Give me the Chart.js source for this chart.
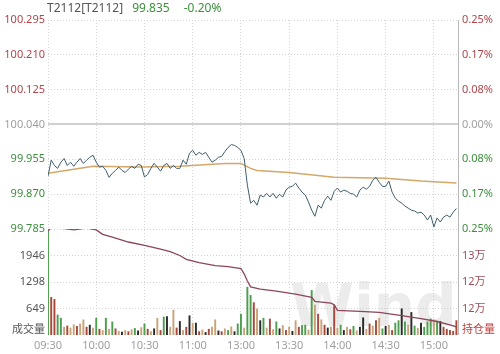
<!DOCTYPE html>
<html>
<head>
<meta charset="utf-8">
<script src="https://cdn.jsdelivr.net/npm/chart.js@4/dist/chart.umd.min.js"></script>
<style>
html, body { margin: 0; padding: 0; background: #fff; }
#wrap { position: relative; width: 500px; height: 354px; }
#chart { position: absolute; left: 0; top: 0; }
#title { position: absolute; left: 47px; top: 0; font: 12px 'Noto Sans', 'Noto Sans CJK SC', sans-serif; line-height: 16px; white-space: nowrap; }
</style>
</head>
<body>
<div id="wrap">
  <canvas id="chart" width="500" height="354"></canvas>
  <div id="title"><span style="color:#555">T2112[T2112]</span><span style="color:#3d8f3d;margin-left:9px">99.835</span><span style="color:#3d8f3d;margin-left:14px">-0.20%</span></div>
</div>
<script>
// one bucket = 2 minutes, 09:30-11:30 then 13:00-15:15
const xTickLabels = ['09:30', '10:00', '10:30', '11:00', '13:00', '13:30', '14:00', '14:30', '15:00'];
const xTickBuckets = [0, 15, 30, 45, 60, 75, 90, 105, 120];
const lastBucket = 127.5;

const prevSettle = 100.040;
const priceTicks = [99.785, 99.870, 99.955, 100.040, 100.125, 100.210, 100.295];

const priceValues = [
  99.914, 99.953, 99.940, 99.933, 99.948, 99.957, 99.940, 99.948, 99.938, 99.948,
  99.957, 99.945, 99.953, 99.960, 99.965, 99.948, 99.936, 99.938, 99.928, 99.911,
  99.921, 99.928, 99.936, 99.928, 99.923, 99.931, 99.938, 99.933, 99.943, 99.940,
  99.912, 99.918, 99.933, 99.945, 99.936, 99.926, 99.940, 99.945, 99.933, 99.940,
  99.933, 99.933, 99.953, 99.943, 99.970, 99.977, 99.965, 99.972, 99.967, 99.972,
  99.960, 99.948, 99.953, 99.960, 99.962, 99.974, 99.984, 99.991, 99.989, 99.984,
  99.977, 99.957, 99.892, 99.848, 99.855, 99.843, 99.868, 99.863, 99.872, 99.863,
  99.872, 99.860, 99.870, 99.863, 99.880, 99.887, 99.889, 99.897, 99.885, 99.875,
  99.868, 99.851, 99.831, 99.816, 99.843, 99.836, 99.855, 99.865, 99.855, 99.877,
  99.885, 99.875, 99.880, 99.877, 99.872, 99.870, 99.863, 99.880, 99.887, 99.882,
  99.889, 99.904, 99.911, 99.899, 99.889, 99.889, 99.902, 99.875, 99.860, 99.853,
  99.848, 99.841, 99.836, 99.831, 99.829, 99.824, 99.826, 99.819, 99.807, 99.819,
  99.790, 99.812, 99.802, 99.814, 99.819, 99.814, 99.826, 99.835
];

const avgBuckets = [0, 14, 29, 41, 55, 60, 63, 65, 75, 89, 105, 116, 127];
const avgValues = [99.921, 99.938, 99.936, 99.938, 99.945, 99.945, 99.933, 99.928, 99.923, 99.911, 99.909, 99.902, 99.897];

const volTicks = [125, 648.75, 1297.5, 1946.25, 2595];
const volValues = [
  2580, 930, 880, 500, 420, 200, 230, 180, 260, 220,
  280, 380, 200, 250, 180, 420, 150, 120, 420, 150,
  330, 160, 100, 80, 120, 90, 140, 170, 110, 190,
  280, 150, 90, 160, 420, 120, 450, 460, 200, 620,
  180, 340, 120, 200, 480, 300, 300, 90, 130, 70,
  150, 200, 380, 110, 90, 160, 120, 210, 90, 280,
  520, 180, 1180, 980, 800, 650, 360, 420, 180, 400,
  140, 330, 160, 240, 120, 200, 100, 360, 200, 240,
  250, 130, 1100, 740, 520, 380, 250, 180, 200, 730,
  180, 250, 120, 200, 140, 220, 110, 200, 430, 150,
  280, 230, 360, 420, 160, 220, 250, 120, 300, 360,
  650, 330, 250, 560, 230, 170, 300, 200, 330, 400,
  380, 350, 340, 200, 150, 120, 100, 360
];
// g green, r red, t tan, k black
const volKinds = 'grrggtrttr' + 'ttrktgrtgt' + 'grtktrtgkt' + 'grtktrgktt' + 'rktrktkrtk' + 'rttkrtgtkg' +
                 'gtggrtkgtr' + 'tgktrtktrg' + 'gtgtrtrktr' + 'tgktrgtkkt' + 'rtrtgktrgg' + 'kgtkgtkggg' + 'tgkrrrrr';

const oiTicks = [112050, 116500, 122000, 127500, 133000];
const oiBuckets = [0, 1, 4, 8, 12, 15, 17, 20, 25, 30, 35, 38, 41, 43, 47, 52, 56, 60, 61, 62,
                   63, 66, 71, 77, 82, 83, 88, 89, 90, 97, 103, 110, 116, 121, 125, 127];
const oiValues = [132600, 133300, 133200, 132800, 133200, 132800, 131900, 131300, 130300, 129600,
                  128800, 128300, 127500, 126700, 126000, 125400, 125200, 124800, 123700, 122200,
                  121000, 120500, 120100, 119500, 118800, 118000, 117600, 117300, 116100, 115900,
                  115700, 115000, 114400, 113800, 113100, 112700];

const FONT = "'Noto Sans', 'Noto Sans CJK SC', sans-serif";
const RED = '#b0464a', GREEN = '#3d8f3d', GREY = '#a0a0a0';
const kindColor = { g: '#4f9e4f', r: '#a8483a', t: '#c9a379', k: '#2a2a2a' };

const priceData = priceValues.map((v, i) => ({ x: i, y: v }));
const avgData = avgValues.map((v, i) => ({ x: avgBuckets[i], y: v }));
const oiData = oiValues.map((v, i) => ({ x: oiBuckets[i], y: v }));
const volData = volValues.map((v, i) => ({ x: i, y: v }));
const volColors = volKinds.split('').map(k => kindColor[k]);

function priceColor(v) {
  if (Math.abs(v - prevSettle) < 1e-6) return GREY;
  return v > prevSettle ? RED : GREEN;
}

const watermark = {
  id: 'watermark',
  beforeDatasetsDraw(chart) {
    const c = chart.ctx;
    c.save();
    c.font = "bold 58px 'DejaVu Sans'";
    c.fillStyle = 'rgba(205,205,205,0.38)';
    c.textBaseline = 'bottom';
    c.fillText('Wind', 290, 340);
    c.restore();
  }
};

new Chart(document.getElementById('chart').getContext('2d'), {
  data: {
    datasets: [
      { type: 'line', data: priceData, yAxisID: 'yPrice', borderColor: '#3f5e6e', borderWidth: 1, pointRadius: 0, tension: 0, order: 1 },
      { type: 'line', data: avgData, yAxisID: 'yPrice', borderColor: '#d3a868', borderWidth: 1.5, pointRadius: 0, tension: 0, order: 2 },
      { type: 'line', data: oiData, yAxisID: 'yOI', borderColor: '#8c4658', borderWidth: 1.3, pointRadius: 0, tension: 0, order: 1 },
      { type: 'bar', data: volData, yAxisID: 'yVol', backgroundColor: volColors, barPercentage: 0.6, categoryPercentage: 1, order: 3 }
    ]
  },
  options: {
    responsive: false,
    animation: false,
    layout: { padding: { top: 20, left: 0, right: 0, bottom: 0 } },
    plugins: { legend: { display: false }, tooltip: { enabled: false } },
    scales: {
      x: {
        type: 'linear', min: 0, max: lastBucket, offset: false,
        afterBuildTicks: s => { s.ticks = xTickBuckets.concat([lastBucket]).map(v => ({ value: v })); },
        afterFit: s => { s.height = 19; },
        ticks: {
          autoSkip: false, maxRotation: 0, padding: 4, color: GREY, font: { family: FONT, size: 11 },
          callback: (v, i) => xTickLabels[i] || ''
        },
        grid: { offset: false, drawTicks: false, color: c => c.tick && c.tick.value === lastBucket ? '#b8b8b8' : '#d4d4d4', lineWidth: 1 },
        border: { display: false, dash: c => c.tick && c.tick.value === lastBucket ? [] : [1, 2] }
      },
      // left stack is laid out in reverse, so the volume axis is defined first
      yVol: {
        type: 'linear', position: 'left', stack: 'L', stackWeight: 106,
        min: 0, max: 2595,
        afterBuildTicks: s => { s.ticks = volTicks.map(v => ({ value: v })); },
        afterFit: s => { s.width = 48; },
        ticks: { autoSkip: false, padding: 3, color: '#555', font: { family: FONT, size: 11 },
          callback: (v, i) => i === 0 ? '成交量' : (v >= 2595 ? '' : Math.round(v)) },
        grid: { drawTicks: false, color: c => c.tick && (c.tick.value === 125 || c.tick.value === 2595) ? 'rgba(0,0,0,0)' : '#d4d4d4' },
        border: { display: false, dash: [1, 2] }
      },
      yPrice: {
        type: 'linear', position: 'left', stack: 'L', stackWeight: 209,
        min: 99.785, max: 100.295,
        afterBuildTicks: s => { s.ticks = priceTicks.map(v => ({ value: v })); },
        afterFit: s => { s.width = 48; },
        ticks: { autoSkip: false, padding: 3, font: { family: FONT, size: 11 }, color: c => priceColor(c.tick.value), callback: v => v.toFixed(3) },
        grid: {
          drawTicks: false,
          color: c => c.tick && Math.abs(c.tick.value - prevSettle) < 1e-6 ? '#d0d0d0' : '#d4d4d4',
          lineWidth: c => c.tick && Math.abs(c.tick.value - prevSettle) < 1e-6 ? 2 : 1
        },
        border: { display: false, dash: c => c.tick && Math.abs(c.tick.value - prevSettle) < 1e-6 ? [] : [1, 2] }
      },
      yPct: {
        type: 'linear', position: 'right', stack: 'R', stackWeight: 209,
        min: 99.785, max: 100.295,
        afterBuildTicks: s => { s.ticks = priceTicks.map(v => ({ value: v })); },
        afterFit: s => { s.width = 42; },
        ticks: { autoSkip: false, padding: 4, font: { family: FONT, size: 11 }, color: c => priceColor(c.tick.value),
          callback: v => Math.abs((v - prevSettle) / prevSettle * 100).toFixed(2) + '%' },
        grid: { drawOnChartArea: false, drawTicks: false },
        border: { display: false }
      },
      yOI: {
        type: 'linear', position: 'right', stack: 'R', stackWeight: 106,
        min: 111000, max: 133000,
        afterBuildTicks: s => { s.ticks = oiTicks.map(v => ({ value: v })); },
        afterFit: s => { s.width = 42; },
        ticks: { autoSkip: false, padding: 4, font: { family: FONT, size: 11 }, color: c => c.index === 0 ? '#c03c3c' : '#a0505a',
          callback: (v, i) => i === 0 ? '持仓量' : (v >= 133000 ? '' : Math.round(v / 10000) + '万') },
        grid: { drawOnChartArea: false, drawTicks: false },
        border: { display: false }
      }
    }
  },
  plugins: [watermark]
});
</script>
</body>
</html>
